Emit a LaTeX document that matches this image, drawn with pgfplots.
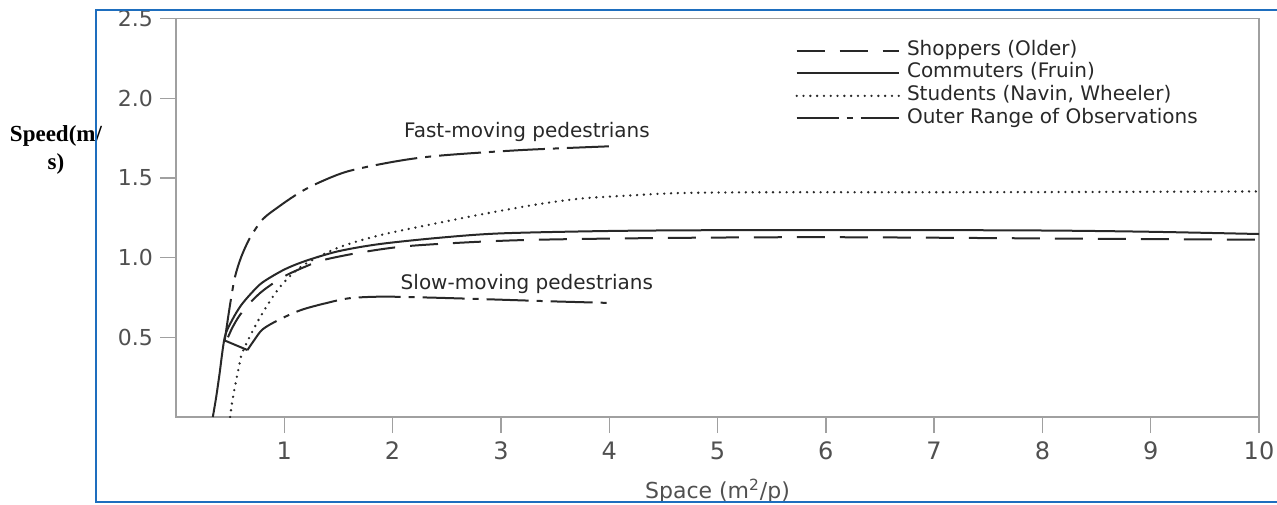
\documentclass[border=0pt]{standalone}
\usepackage{fontspec}
\setmainfont{DejaVu Sans}
\newfontfamily\serifb{Liberation Serif}
\usepackage{pgfplots}
\pgfplotsset{compat=1.18}
\definecolor{frameblue}{RGB}{30,110,190}
\definecolor{axgray}{RGB}{160,160,160}
\definecolor{txt}{RGB}{80,80,80}
\definecolor{ink}{RGB}{40,40,40}
\begin{document}
\begin{tikzpicture}
\begin{axis}[
  scale only axis, width=541.5pt, height=199.25pt,
  xmin=0, xmax=10, ymin=0, ymax=2.5,
  axis line style={axgray, line width=0.7pt},
  xtick={1,2,3,4,5,6,7,8,9,10}, ytick={0.5,1,1.5,2,2.5},
  yticklabels={0.5,1.0,1.5,2.0,2.5},
  xtick pos=bottom, ytick pos=left,
  tick align=outside, major tick length=8pt,
  tick style={axgray, line width=0.7pt},
  /pgf/number format/assume math mode=true,
  xticklabel style={font=\fontsize{12}{14}\selectfont, text=txt, yshift=-1pt},
  yticklabel style={font=\fontsize{11}{13}\selectfont, text=txt},
  xlabel={Space (m\textsuperscript{2}/p)},
  xlabel style={font=\fontsize{11}{13}\selectfont, text=txt, at={(axis description cs:0.5,0)}, anchor=center, yshift=-37pt},
  ylabel={Speed(m/\\s)},
  ylabel style={font=\serifb\bfseries\fontsize{11.5}{14}\selectfont, text=black, align=center, rotate=-90, at={(axis description cs:0,0.67)}, anchor=center, xshift=-60pt},
  legend style={draw=none, fill=none, at={(axis description cs:0.5716,0.9486)}, anchor=north west, inner sep=0pt, row sep=0pt, column sep=3.5pt, font=\fontsize{10}{12}\selectfont, text=ink, nodes={inner sep=0pt, text height=8pt, text depth=3.3pt}},
  legend cell align=left,
  legend image code/.code={\draw[#1] (0pt,0pt) -- (51pt,0pt);},
]
\addplot[ink, line width=1pt, dash pattern=on 14pt off 7.5pt, smooth, tension=0.5] coordinates {
(0.48,0.50) (0.52,0.56) (0.58,0.63) (0.66,0.70) (0.78,0.78) (0.9,0.84) (1.02,0.89) (1.2,0.945) (1.36,0.985) (1.73,1.035) (2.19,1.075) (3.11,1.108) (4.35,1.122) (6,1.128) (8.5,1.118) (10,1.112)};
\addlegendentry{Shoppers (Older)}
\addplot[ink, line width=1pt, smooth, tension=0.5] coordinates {
(0.34,0) (0.37,0.12) (0.40,0.26) (0.45,0.5) (0.52,0.61) (0.6,0.7) (0.7,0.78) (0.8,0.845) (1.0,0.925) (1.2,0.98) (1.5,1.04) (1.88,1.085) (2.44,1.125) (3.0,1.152) (4,1.167) (5,1.172) (6.5,1.173) (8,1.17) (9,1.162) (10,1.148)};
\addlegendentry{Commuters (Fruin)}
\addplot[ink, line width=1.3pt, line cap=round, dash pattern=on 0pt off 3.4pt, smooth, tension=0.5] coordinates {
(0.5,0) (0.52,0.1) (0.55,0.21) (0.58,0.31) (0.61,0.40) (0.7,0.53) (0.78,0.63) (0.88,0.74) (0.99,0.84) (1.17,0.95) (1.49,1.06) (1.88,1.14) (2.44,1.22) (2.81,1.27) (3.3,1.33) (3.73,1.37) (4.2,1.39) (4.65,1.405) (5.5,1.41) (7,1.41) (8.5,1.412) (10,1.415)};
\addlegendentry{Students (Navin, Wheeler)}
\addplot[ink, line width=1pt, dash pattern=on 21pt off 4pt on 3pt off 4pt, smooth, tension=0.5] coordinates {
(0.45,0.48) (0.48,0.62) (0.51,0.75) (0.545,0.88) (0.6,1.0) (0.68,1.12) (0.8,1.24) (0.95,1.32) (1.1,1.39) (1.27,1.455) (1.58,1.54) (2.04,1.605) (2.44,1.64) (3.2,1.675) (4.07,1.70)};
\addlegendentry{Outer Range of Observations}
\addplot[ink, line width=1pt, dash pattern=on 21pt off 4pt on 3pt off 4pt, smooth, tension=0.5, forget plot] coordinates {
(0.66,0.42) (0.72,0.48) (0.8,0.55) (0.95,0.61) (1.15,0.67) (1.36,0.71) (1.6,0.745) (1.9,0.755) (2.3,0.75) (2.81,0.74) (3.5,0.725) (4.04,0.715)};
\addplot[ink, line width=1pt, forget plot] coordinates {(0.45,0.48) (0.66,0.42)};
\node[font=\fontsize{10}{12}\selectfont, text=ink] at (axis cs:3.24,1.79) {Fast-moving pedestrians};
\node[font=\fontsize{10}{12}\selectfont, text=ink] at (axis cs:3.24,0.834) {Slow-moving pedestrians};
\end{axis}
\draw[frameblue, line width=1.3pt] (560pt,203.5pt) -- (-40pt,203.5pt) -- (-40pt,-42.5pt) -- (560pt,-42.5pt);
\pgfresetboundingbox
\path[use as bounding box] (-88pt,-43.5pt) rectangle (550.5pt,208.5pt);
\end{tikzpicture}
\end{document}
